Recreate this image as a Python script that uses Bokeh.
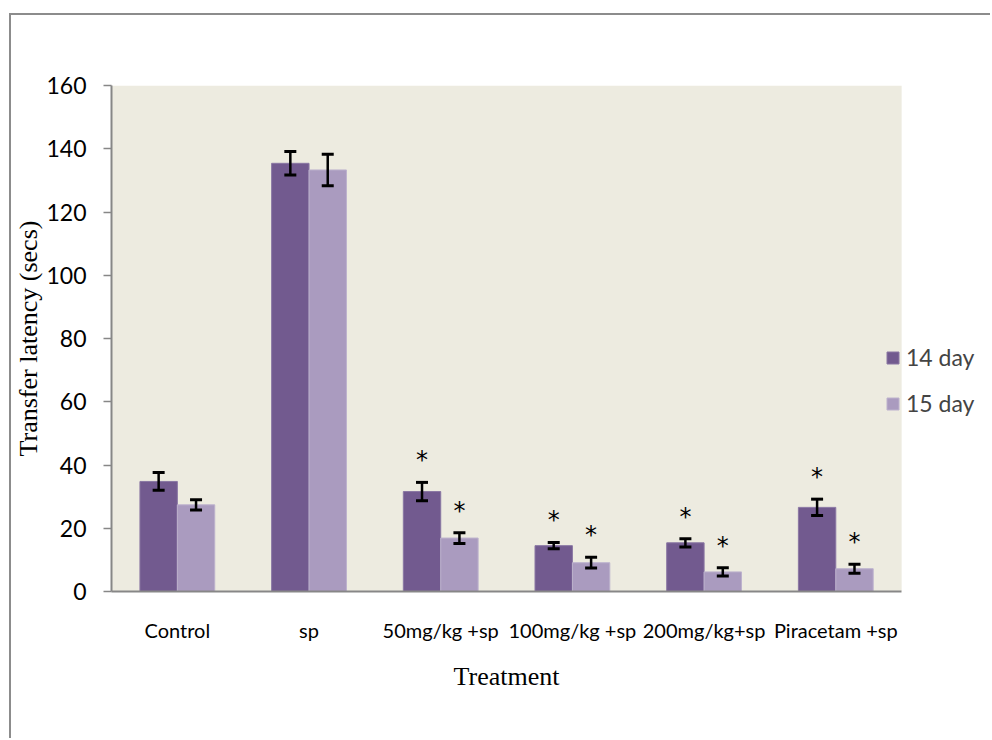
from bokeh.plotting import figure
from bokeh.models import (ColumnDataSource, Range1d, Whisker, TeeHead, Legend,
                          LegendItem, FixedTicker, BoxAnnotation, Title)
from bokeh.transform import dodge
from bokeh.core.properties import value
from bokeh.embed import file_html
from bokeh.resources import INLINE

# Transfer latency (secs), mean and error per treatment group
categories = ["Control", "sp", "50mg/kg +sp", "100mg/kg +sp", "200mg/kg+sp", "Piracetam +sp"]
day14 = [34.8, 135.4, 31.6, 14.5, 15.4, 26.6]
day14_err = [2.8, 3.7, 2.9, 1.0, 1.3, 2.6]
day15 = [27.4, 133.3, 16.9, 9.1, 6.2, 7.2]
day15_err = [1.6, 5.0, 1.7, 1.7, 1.3, 1.4]
day14_sig = ["", "", "*", "*", "*", "*"]
day15_sig = ["", "", "*", "*", "*", "*"]
series_names = ["14 day", "15 day"]
y_ticks = [0, 20, 40, 60, 80, 100, 120, 140, 160]

DARK = "#725A8F"
LIGHT = "#AA9BBF"
PLOT_BG = "#EDEBE0"
AXIS_GREY = "#878787"
TICK_FONT = "Lato"
SERIF = "Liberation Serif"

n_cat = len(categories)
centers = [i + 0.5 for i in range(n_cat)]


def make_source(means, errs, sig):
    return ColumnDataSource(dict(
        x=centers,
        mean=means,
        upper=[m + e for m, e in zip(means, errs)],
        lower=[m - e for m, e in zip(means, errs)],
        sig=sig,
    ))


src14 = make_source(day14, day14_err, day14_sig)
src15 = make_source(day15, day15_err, day15_sig)

# the x range runs past the last group so the legend has room on the right
x_end = n_cat * 1.115
p = figure(
    width=981, height=725,
    x_range=Range1d(0, x_end), y_range=Range1d(0, 160),
    output_backend="svg", toolbar_location=None,
    min_border_left=99, min_border_right=0,
    min_border_top=70, min_border_bottom=149,
)
# chart area frame: grey rule along the left and top edges
p.margin = (13, 0, 0, 9)
p.styles = {"border-left": "2px solid #8C8C8C", "border-top": "2px solid #8C8C8C"}

p.background_fill_color = "white"
p.border_fill_color = "white"
p.outline_line_color = None
p.xgrid.visible = False
p.ygrid.visible = False

# plot area shading behind the groups
p.add_layout(BoxAnnotation(left=0, right=n_cat, fill_color=PLOT_BG, fill_alpha=1,
                           line_alpha=0, level="underlay", editable=False))

bar_w = 0.284
off = bar_w / 2

r14 = p.vbar(x=dodge("x", -off), top="mean", width=bar_w,
             source=src14, fill_color=DARK, line_color="#8A77A3", line_width=1)
r15 = p.vbar(x=dodge("x", off), top="mean", width=bar_w,
             source=src15, fill_color=LIGHT, line_color="#BDB2CD", line_width=1)

for src, shift in ((src14, -off), (src15, off)):
    w = Whisker(source=src, base=dodge("x", shift),
                upper="upper", lower="lower", level="annotation",
                line_color="black", line_width=2.5,
                upper_head=TeeHead(size=12, line_color="black", line_width=3),
                lower_head=TeeHead(size=12, line_color="black", line_width=3))
    p.add_layout(w)
    p.text(x=dodge("x", shift), y="upper", text="sig", source=src,
           text_font=value("DejaVu Sans"), text_font_size="24px", text_color="black",
           text_align="center", text_baseline="alphabetic", y_offset=-22)

# axes
p.yaxis.ticker = FixedTicker(ticks=y_ticks)
p.xaxis.ticker = FixedTicker(ticks=centers)
p.xaxis.major_label_overrides = {c: name for c, name in zip(centers, categories)}
p.xaxis.bounds = (0, n_cat)
p.yaxis.axis_label = "Transfer latency (secs)"
for ax in (p.xaxis, p.yaxis):
    ax.axis_line_color = AXIS_GREY
    ax.axis_line_width = 2
    ax.major_tick_line_color = AXIS_GREY
    ax.major_tick_line_width = 1.5
    ax.minor_tick_line_color = None
    ax.major_tick_in = 0
    ax.major_label_text_color = "black"
    ax.major_label_text_font = TICK_FONT
    ax.axis_label_text_font = SERIF
    ax.axis_label_text_font_style = "normal"
    ax.axis_label_text_font_size = "26px"
    ax.axis_label_text_color = "black"

p.yaxis.major_tick_out = 8
p.yaxis.major_label_text_font_size = "23px"
p.yaxis.major_label_standoff = 17
p.yaxis.axis_label_standoff = 0

p.xaxis.major_tick_out = 0
p.xaxis.major_tick_line_color = None
p.xaxis.major_label_text_font_size = "20px"
p.xaxis.major_label_standoff = 26

# x axis title, centred under the groups rather than the whole frame
p.add_layout(Title(text="Treatment", align="left", offset=342, standoff=31,
                   text_font=SERIF, text_font_size="26px", text_font_style="normal",
                   text_color="black"), "below")

legend = Legend(
    items=[LegendItem(label=series_names[0], renderers=[r14]),
           LegendItem(label=series_names[1], renderers=[r15])],
    location=(774, 174),
    padding=0, margin=0, spacing=18,
    glyph_width=15, glyph_height=15, label_standoff=6, label_height=26,
    label_text_font=TICK_FONT, label_text_font_size="23px",
    border_line_alpha=0, background_fill_alpha=0,
)
p.add_layout(legend)

open("out.html", "w").write(file_html(p, INLINE))
